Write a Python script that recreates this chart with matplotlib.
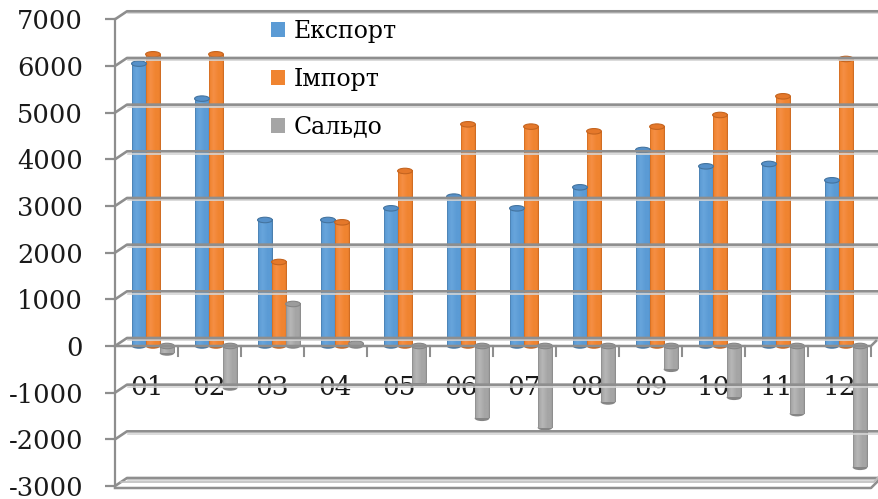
import numpy as np
import matplotlib
matplotlib.use('Agg')
import matplotlib.pyplot as plt
from matplotlib.patches import Ellipse, Patch
from matplotlib.lines import Line2D
from matplotlib.transforms import IdentityTransform
from matplotlib.colors import LinearSegmentedColormap

plt.rcParams['font.family'] = ['DejaVu Serif']

# ---------------- data ----------------
months = ['01', '02', '03', '04', '05', '06', '07', '08', '09', '10', '11', '12']
export_vals = [6050, 5300, 2700, 2700, 2950, 3200, 2950, 3400, 4200, 3850, 3900, 3550]
import_vals = [6250, 6250, 1800, 2650, 3750, 4750, 4700, 4600, 4700, 4950, 5350, 6150]
saldo_vals = [-150, -900, 900, 50, -800, -1550, -1750, -1200, -500, -1100, -1450, -2600]
series_names = ['Експорт', 'Імпорт', 'Сальдо']
yticks = [-3000, -2000, -1000, 0, 1000, 2000, 3000, 4000, 5000, 6000, 7000]

# ---------------- styles ----------------
base_cols = ['#5B9BD5', '#F08430', '#A5A5A5']
dark_cols = ['#44749F', '#C4641F', '#858585']
light_cols = ['#68A5DC', '#F58F45', '#B7B7B7']
cap_cols = ['#5590C9', '#E5782A', '#9C9C9C']
grid_col = '#8E8E8E'

W, H = 879, 499
fig = plt.figure(figsize=(W / 100, H / 100), dpi=100)
ax_left_px, ax_right_px = 115, 879
ax_top_px, ax_bot_px = 19.3, 486
ax = fig.add_axes([ax_left_px / W, (H - ax_bot_px) / H,
                   (ax_right_px - ax_left_px) / W, (ax_bot_px - ax_top_px) / H])
cat_px = 63.0
xmax = -0.5 + (ax_right_px - ax_left_px) / cat_px
ax.set_xlim(-0.5, xmax)
ax.set_ylim(yticks[0], yticks[-1])
for s in ['top', 'right', 'bottom']:
    ax.spines[s].set_visible(False)
ax.spines['left'].set_color(grid_col)
ax.spines['left'].set_linewidth(1.6)
ax.set_yticks(yticks)
ax.set_yticklabels([str(v) for v in yticks])
ax.tick_params(axis='y', length=7.5, width=1.6, color=grid_col, labelsize=18.5,
               labelcolor='#1a1a1a', pad=15.5)
ax.set_xticks([])
ax.patch.set_alpha(0)

n = len(months)
data_per_px = (yticks[-1] - yticks[0]) / (ax_bot_px - ax_top_px)


def disp(x, y):
    return ax.transData.transform((x, y))


# back-wall gridlines with 3D offset
dx, dy = 12, 8
for v in yticks:
    fx, fy = disp(-0.5, v)
    bx, by = fx + dx, fy + dy
    fig.add_artist(Line2D([fx, bx, W + 5], [fy, by, by], transform=IdentityTransform(),
                          color=grid_col, lw=1.9, zorder=1))
    fig.add_artist(Line2D([bx + 1, W + 5], [by - 2.2, by - 2.2], transform=IdentityTransform(),
                          color='#D4D4D4', lw=1.2, zorder=0.9))

# floor slab at the minimum
fx0, fy0 = disp(-0.5, yticks[0])
fx1, fy1 = disp(n - 0.5, yticks[0])
fig.add_artist(Line2D([fx0, fx1, W], [fy0 - 2, fy1 - 2, fy1 + dy - 2], transform=IdentityTransform(),
                      color=grid_col, lw=1.8, zorder=2))
fig.add_artist(Line2D([fx0 + 6, fx1 + 3, W], [fy0 + 4, fy1 + 4, fy1 + dy + 2],
                      transform=IdentityTransform(), color='#BDBDBD', lw=1.2, zorder=1.9))

# zero category axis with ticks
zx0, zy0 = disp(-0.5, 0)
zx1, zy1 = disp(n - 0.5, 0)
fig.add_artist(Line2D([zx0, zx1, zx1 + 5], [zy0, zy1, zy1 + 5], transform=IdentityTransform(),
                      color=grid_col, lw=1.8, zorder=2))
for k in range(n):
    bxp, byp = disp(k + 0.5, 0)
    fig.add_artist(Line2D([bxp, bxp], [byp, byp - 10], transform=IdentityTransform(),
                          color=grid_col, lw=1.5, zorder=2))

# category labels
for i, m in enumerate(months):
    ax.text(i, -880, m, ha='center', va='center', fontsize=19, color='#1a1a1a', zorder=2.5)

# bars (cylinder-like)
bar_w = 0.234
offsets = [-0.12, 0.103, 0.326]
cap_h = 5.5 * data_per_px
grad = np.linspace(0, 1, 64).reshape(1, -1)
all_series = [export_vals, import_vals, saldo_vals]
for si, vals in enumerate(all_series):
    cmap = LinearSegmentedColormap.from_list(
        'c%d' % si, [(0, dark_cols[si]), (0.06, base_cols[si]), (0.3, light_cols[si]),
                     (0.65, base_cols[si]), (0.9, base_cols[si]), (1, dark_cols[si])])
    for i, v in enumerate(vals):
        xc = i + offsets[si]
        x0, x1 = xc - bar_w / 2, xc + bar_w / 2
        lo, hi = min(0, v), max(0, v)
        ax.add_patch(Ellipse((xc, lo), bar_w, cap_h, facecolor=dark_cols[si],
                             edgecolor='none', zorder=3 + 0.01 * si))
        if hi - lo > 0:
            ax.imshow(grad, extent=[x0, x1, lo, hi], aspect='auto', cmap=cmap,
                      interpolation='bilinear', zorder=3.1 + 0.01 * si)
        ax.add_patch(Ellipse((xc, hi), bar_w, cap_h, facecolor=cap_cols[si],
                             edgecolor=dark_cols[si], lw=0.8, zorder=3.2 + 0.01 * si))

ax.set_xlim(-0.5, xmax)
ax.set_ylim(yticks[0], yticks[-1])
ax.set_aspect('auto')

handles = [Patch(facecolor=c, edgecolor='none') for c in base_cols]
fig.legend(handles, series_names, loc='upper left',
           bbox_to_anchor=(271 / W, 1 - 20 / H), bbox_transform=fig.transFigure,
           frameon=False, fontsize=17, handlelength=0.6, handleheight=0.6,
           handletextpad=0.35, labelspacing=1.05, borderpad=0, borderaxespad=0)

fig.savefig('out.png', dpi=100)
